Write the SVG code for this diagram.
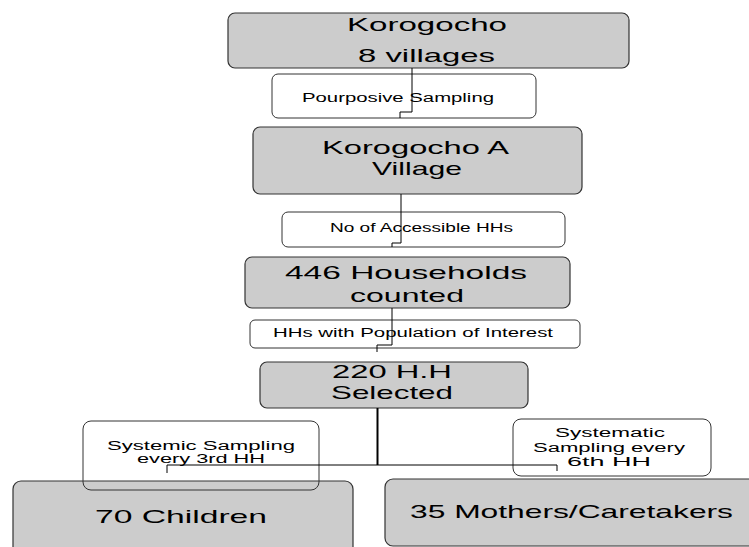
<svg xmlns="http://www.w3.org/2000/svg" width="749" height="547" viewBox="0 0 749 547">
<style>
.node{fill:#cccccc;stroke:#333333;stroke-width:1.2}
.lbl{fill:none;stroke:#333333;stroke-width:1}
.big{font-family:"Liberation Sans","Open Sans",sans-serif;font-size:19px;fill:#000}
.sm{font-family:"Liberation Sans","Open Sans",sans-serif;font-size:12px;fill:#000}
.mid{font-family:"Liberation Sans","Open Sans",sans-serif;font-size:12px;fill:#000}
.conn{fill:none;stroke:#000;stroke-width:1}
</style>
<rect width="749" height="547" fill="#fff"/>
<g id="n1"><rect class="node" x="228" y="13" width="401" height="55" rx="7"/>
<text class="big" x="347" y="31" textLength="160" lengthAdjust="spacingAndGlyphs">Korogocho</text>
<text class="big" x="358" y="62" textLength="137" lengthAdjust="spacingAndGlyphs">8 villages</text></g>
<g id="n2"><rect class="node" x="253" y="127" width="329" height="67" rx="7"/>
<text class="big" x="322" y="154" textLength="187" lengthAdjust="spacingAndGlyphs">Korogocho A</text>
<text class="big" x="372" y="175" textLength="90" lengthAdjust="spacingAndGlyphs">Village</text></g>
<g id="n3"><rect class="node" x="245" y="257" width="325" height="51" rx="7"/>
<text class="big" x="285" y="279" textLength="242" lengthAdjust="spacingAndGlyphs">446 Households</text>
<text class="big" x="350" y="302" textLength="114" lengthAdjust="spacingAndGlyphs">counted</text></g>
<g id="n4"><rect class="node" x="260" y="362" width="268" height="46" rx="7"/>
<text class="big" x="332" y="378" textLength="120" lengthAdjust="spacingAndGlyphs">220 H.H</text>
<text class="big" x="331" y="399" textLength="122" lengthAdjust="spacingAndGlyphs">Selected</text></g>
<g id="n5"><rect class="node" x="13" y="481" width="340" height="80" rx="8"/>
<text class="big" x="95" y="523" textLength="172" lengthAdjust="spacingAndGlyphs">70 Children</text></g>
<g id="n6"><rect class="node" x="385" y="479" width="380" height="67" rx="8"/>
<text class="big" x="410" y="518" textLength="323" lengthAdjust="spacingAndGlyphs">35 Mothers/Caretakers</text></g>
<g id="l1"><rect class="lbl" x="272" y="74" width="264" height="44" rx="6"/>
<text class="sm" x="302" y="102" textLength="192" lengthAdjust="spacingAndGlyphs">Pourposive Sampling</text></g>
<g id="l2"><rect class="lbl" x="282" y="212" width="283" height="35" rx="6"/>
<text class="sm" x="330" y="232" textLength="183" lengthAdjust="spacingAndGlyphs">No of Accessible HHs</text></g>
<g id="l3"><rect class="lbl" x="250" y="320" width="330" height="28" rx="5"/>
<text class="sm" x="273" y="337" textLength="280" lengthAdjust="spacingAndGlyphs">HHs with Population of Interest</text></g>
<g id="l4"><rect class="lbl" x="83" y="421" width="236" height="69" rx="8"/>
<text class="mid" x="107" y="450" textLength="188" lengthAdjust="spacingAndGlyphs">Systemic Sampling</text>
<text class="mid" x="137" y="463" textLength="128" lengthAdjust="spacingAndGlyphs">every 3rd HH</text></g>
<g id="l5"><rect class="lbl" x="513" y="419" width="198" height="57" rx="8"/>
<text class="mid" x="555" y="437" textLength="110" lengthAdjust="spacingAndGlyphs">Systematic</text>
<text class="mid" x="533" y="452" textLength="152" lengthAdjust="spacingAndGlyphs">Sampling every</text>
<text class="mid" x="567" y="466" textLength="84" lengthAdjust="spacingAndGlyphs">6th HH</text></g>
<g id="connectors">
<path class="conn" d="M412,68 V112 H400 V118"/>
<path class="conn" d="M401,194 V243 H392 V247"/>
<path class="conn" d="M392,308 V345 H377 V352"/>
<path class="conn" d="M377.5,408 V465" style="stroke-width:2"/>
<path class="conn" d="M377,465 H167 V473"/>
<path class="conn" d="M377,465 H557 V471"/>
</g>
</svg>
